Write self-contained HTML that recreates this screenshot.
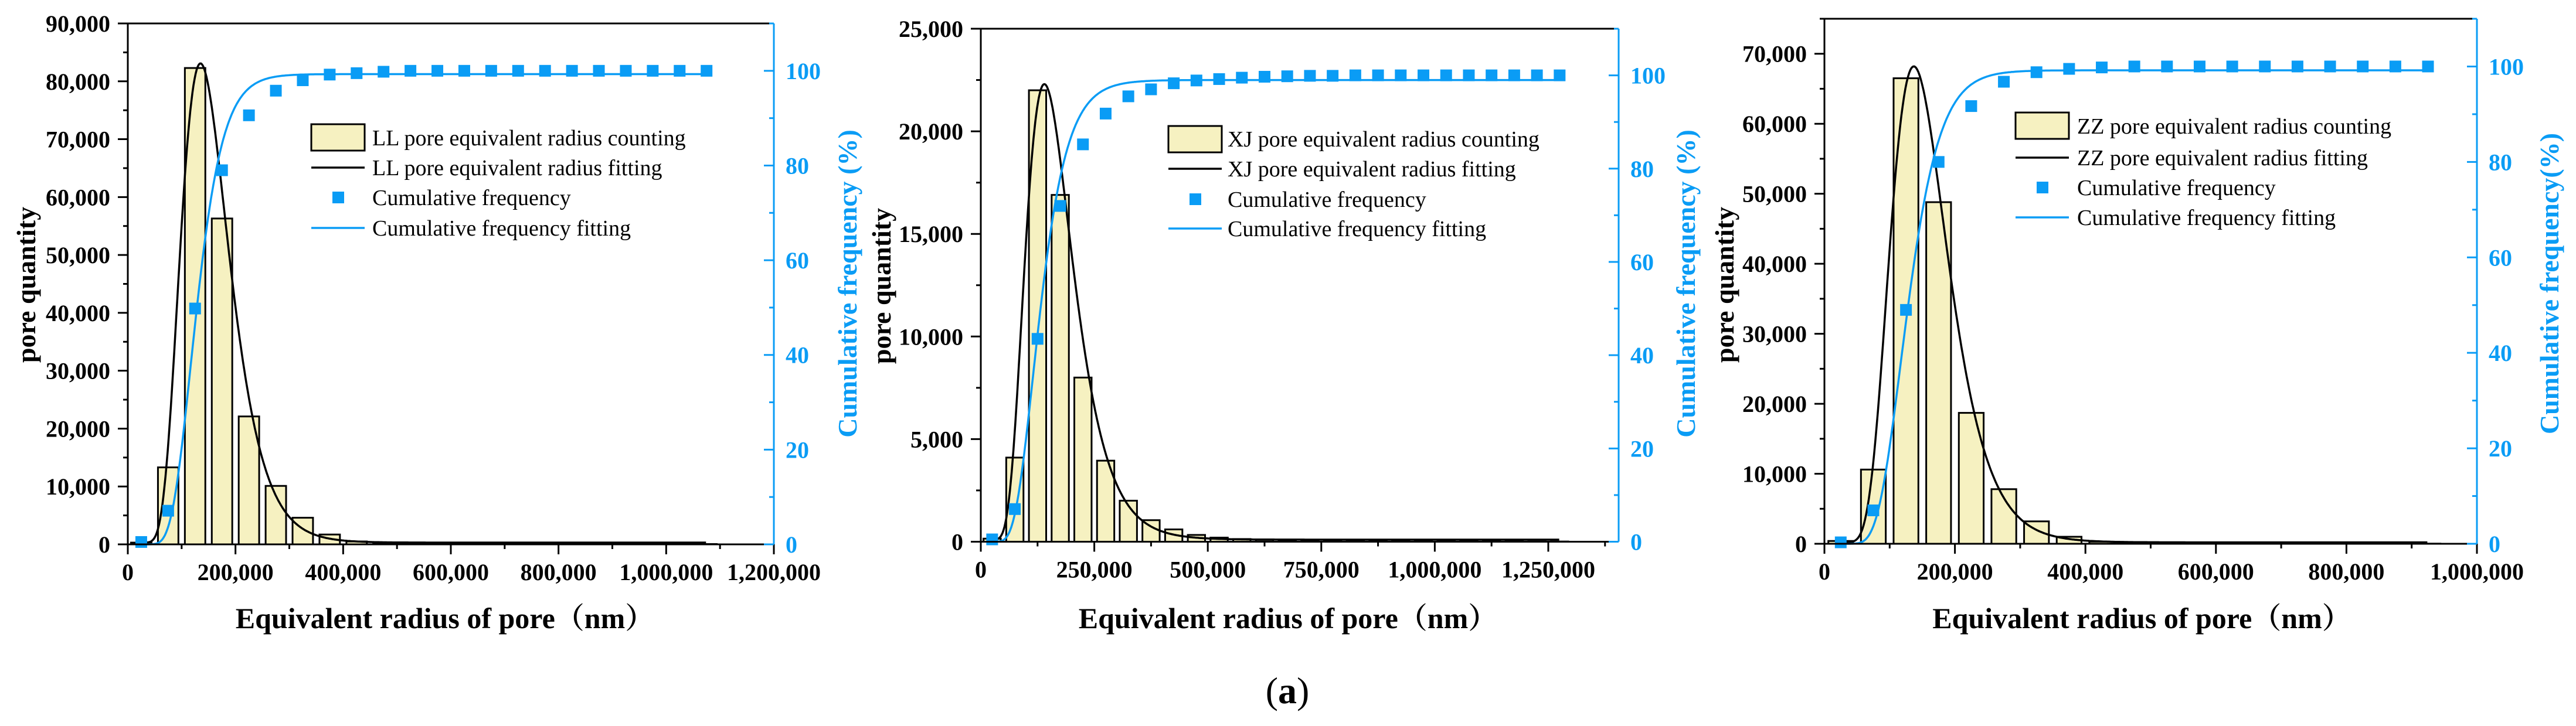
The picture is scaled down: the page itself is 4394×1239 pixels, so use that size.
<!DOCTYPE html>
<html><head><meta charset="utf-8"><title>Pore equivalent radius distribution</title>
<style>
html,body{margin:0;padding:0;background:#fff;}
svg{display:block;font-family:"Liberation Serif","Noto Serif CJK SC",serif;}
</style></head>
<body>
<svg id="fig" width="4394" height="1239" viewBox="0 0 4394 1239" xmlns="http://www.w3.org/2000/svg"></svg>
<script>
// ---- data: LL ----
const llCounts = [300,13300,82300,56300,22100,10100,4600,1700,500,300,250,200,150,150,100,100,100,80,80,60,60,50];
const llCum = [0.5,7.1,49.8,79,90.6,95.8,98,99.2,99.5,99.8,100,100,100,100,100,100,100,100,100,100,100,100];
const llFit = [82800,135000,0.33,300];      // amplitude, xc, w, y0
const llCumFit = [128000,0.30,99.3];        // median, sigma, plateau
const llXTicks = ["0","200,000","400,000","600,000","800,000","1,000,000","1,200,000"];
const llYTicks = ["0","10,000","20,000","30,000","40,000","50,000","60,000","70,000","80,000","90,000"];
// ---- data: XJ ----
const xjCounts = [150,4100,22000,16900,8000,3950,2000,1050,600,330,200,130,90,70,60,50,40,35,30,25,20,20,15,15,10,10];
const xjCum = [0.5,7,43.5,72,85.2,91.8,95.5,97,98.3,98.9,99.2,99.5,99.7,99.8,99.9,99.9,100,100,100,100,100,100,100,100,100,100];
const xjFit = [22200,140000,0.37,100];
const xjCumFit = [131000,0.36,99.0];
const xjXTicks = ["0","250,000","500,000","750,000","1,000,000","1,250,000"];
const xjYTicks = ["0","5,000","10,000","15,000","20,000","25,000"];
// ---- data: ZZ ----
const zzCounts = [400,10600,66500,48800,18700,7800,3200,1000,300,150,100,80,60,50,40,30,30,20,20];
const zzCum = [0.3,7,49,80,91.7,96.8,98.8,99.5,99.8,100,100,100,100,100,100,100,100,100,100];
const zzFit = [68000,137000,0.32,200];
const zzCumFit = [128000,0.30,99.2];
const zzXTicks = ["0","200,000","400,000","600,000","800,000","1,000,000"];
const zzYTicks = ["0","10,000","20,000","30,000","40,000","50,000","60,000","70,000"];
const cumTicks = ["0","20","40","60","80","100"];

const NS="http://www.w3.org/2000/svg";
const svg=document.getElementById('fig');
const BLUE="#0a9cf5", FILL="#f6f1c1";
function mk(tag,attrs,parent,txt){const e=document.createElementNS(NS,tag);for(const k in attrs)e.setAttribute(k,attrs[k]);if(txt!==undefined)e.textContent=txt;(parent||svg).appendChild(e);return e;}
function erf(x){const s=Math.sign(x);x=Math.abs(x);const t=1/(1+0.3275911*x);const y=1-(((((1.061405429*t-1.453152027)*t)+1.421413741)*t-0.284496736)*t+0.254829592)*t*Math.exp(-x*x);return s*y;}

function chart(c){
  const g=mk('g',{});
  
  
  const X=v=>c.L+(v/c.xMax)*(c.R-c.L);
  const Y=v=>c.B-(v/c.yMax)*(c.B-c.T);
  const Y2=v=>c.B-(v/110)*(c.B-c.T);
  const bin=50000, bw=38000;
  c.counts.forEach((v,i)=>{
    const cx=bin/2+i*bin;
    const r=mk('rect',{x:X(cx-bw/2),y:Y(v),width:X(bw)-X(0),height:c.B-Y(v),fill:FILL,stroke:'#000','stroke-width':3},g);
    
    
  });
  const lastX=bin/2+(c.counts.length-1)*bin;
  let d='';
  for(let x=20000;x<=lastX;x+=2000){
    const [A,xc,w,y0]=c.fit;
    const v=y0+A*Math.exp(-Math.pow(Math.log(x/xc),2)/(2*w*w));
    d+=(d?'L':'M')+X(x).toFixed(1)+' '+Y(v).toFixed(1);
  }
  const fp=mk('path',{d:d,fill:'none',stroke:'#000','stroke-width':3.5},g);
  
  
  d='';
  for(let x=25000;x<=lastX;x+=2000){
    const [m,s,p]=c.cumFit;
    const v=p*0.5*(1+erf(Math.log(x/m)/(s*Math.SQRT2)));
    d+=(d?'L':'M')+X(x).toFixed(1)+' '+Y2(v).toFixed(1);
  }
  const cp=mk('path',{d:d,fill:'none',stroke:BLUE,'stroke-width':3.5},g);
  
  
  c.cum.forEach((v,i)=>{
    const cx=bin/2+i*bin;
    const r=mk('rect',{x:X(cx)-10,y:Y2(v)-10,width:20,height:20,fill:BLUE},g);
    
    
  });
  mk('line',{x1:c.L,y1:c.T,x2:c.R,y2:c.T,stroke:'#000','stroke-width':3},g);
  mk('line',{x1:c.L,y1:c.T,x2:c.L,y2:c.B+1.5,stroke:'#000','stroke-width':3},g);
  mk('line',{x1:c.L,y1:c.B,x2:c.R,y2:c.B,stroke:'#000','stroke-width':3},g);
  mk('line',{x1:c.R,y1:c.T,x2:c.R,y2:c.B,stroke:BLUE,'stroke-width':3},g);
  for(let v=0;v<=c.yMax+1;v+=c.yMinor){
    const major=Math.abs(v/c.yMajor-Math.round(v/c.yMajor))<1e-6;
    mk('line',{x1:c.L-(major?17:8),y1:Y(v),x2:c.L,y2:Y(v),stroke:'#000','stroke-width':3},g);
  }
  c.yTicks.forEach((t,i)=>{
    const e=mk('text',{x:c.L-30,y:Y(i*c.yMajor)+14,'text-anchor':'end','font-size':40,'font-weight':'bold',fill:'#000'},g,t);
    
    
  });
  for(let v=0;v<=c.xMax+1;v+=c.xMinor){
    const major=Math.abs(v/c.xMajor-Math.round(v/c.xMajor))<1e-6;
    mk('line',{x1:X(v),y1:c.B,x2:X(v),y2:c.B+(major?17:8),stroke:'#000','stroke-width':3},g);
  }
  c.xTicks.forEach((t,i)=>{
    const e=mk('text',{x:X(i*c.xMajor),y:c.B+61,'text-anchor':'middle','font-size':40,'font-weight':'bold',fill:'#000'},g,t);
    
    
  });
  for(let v=0;v<=110;v+=10){
    const major=v%20===0;
    mk('line',{x1:c.R-(major?17:8),y1:Y2(v),x2:c.R,y2:Y2(v),stroke:BLUE,'stroke-width':3},g);
  }
  cumTicks.forEach((t,i)=>{
    const e=mk('text',{x:c.R+20,y:Y2(i*20)+14,'text-anchor':'start','font-size':40,'font-weight':'bold',fill:BLUE},g,t);
    
    
  });
  const xt=mk('text',{x:(c.L+c.R)/2+c.xtOff,y:1072,'text-anchor':'middle','font-size':50,'font-weight':'bold',fill:'#000'},g,'Equivalent radius of pore（nm）');
  
  
  const yt=mk('text',{x:0,y:0,'text-anchor':'middle','font-size':46,'font-weight':'bold',fill:'#000',transform:'translate('+(c.ytX)+','+c.ytY+') rotate(-90)'},g,'pore quantity');
  
  
  const rt=mk('text',{x:0,y:0,'text-anchor':'middle','font-size':46,'font-weight':'bold',fill:BLUE,transform:'translate('+c.rtX+',484) rotate(-90)'},g,c.rtText);
  
  
  const lg=mk('g',{},g);
  
  
  const [lx,ly,tx,rows]=c.leg;
  mk('rect',{x:lx,y:ly,width:91,height:45,fill:FILL,stroke:'#000','stroke-width':3},lg);
  mk('line',{x1:lx,y1:rows[1],x2:lx+91,y2:rows[1],stroke:'#000','stroke-width':3.5},lg);
  mk('rect',{x:lx+36,y:rows[2]-10,width:20,height:20,fill:BLUE},lg);
  mk('line',{x1:lx,y1:rows[3],x2:lx+91,y2:rows[3],stroke:BLUE,'stroke-width':3.5},lg);
  const labels=[c.id+' pore equivalent radius counting',c.id+' pore equivalent radius fitting','Cumulative frequency','Cumulative frequency fitting'];
  labels.forEach((t,i)=>{
    const e=mk('text',{x:tx,y:rows[i]+13,'font-size':38,fill:'#000'},lg,t);
    
    
  });
}

chart({id:'LL',L:218,R:1320,T:40,B:929,xMax:1200000,yMax:90000,xMajor:200000,xMinor:100000,yMajor:10000,yMinor:5000,
  counts:llCounts,cum:llCum,fit:llFit,cumFit:llCumFit,xTicks:llXTicks,yTicks:llYTicks,
  xtOff:-10,ytX:60,ytY:486,rtX:1461,rtText:'Cumulative frequency (%)',leg:[531,212,635,[235,286,337,389]]});
chart({id:'XJ',L:1673,R:2761,T:49,B:924.5,xMax:1405000,yMax:25000,xMajor:250000,xMinor:125000,yMajor:5000,yMinor:2500,
  counts:xjCounts,cum:xjCum,fit:xjFit,cumFit:xjCumFit,xTicks:xjXTicks,yTicks:xjYTicks,
  xtOff:-20,ytX:1519,ytY:488,rtX:2891,rtText:'Cumulative frequency (%)',leg:[1993,215,2094,[237,288,340,390]]});
chart({id:'ZZ',L:3112,R:4225,T:32,B:928,xMax:1000000,yMax:75000,xMajor:200000,xMinor:100000,yMajor:10000,yMinor:5000,
  counts:zzCounts,cum:zzCum,fit:zzFit,cumFit:zzCumFit,xTicks:zzXTicks,yTicks:zzYTicks,
  xtOff:-15,ytX:2957,ytY:486,rtX:4364,rtText:'Cumulative frequency(%)',leg:[3438,192,3543,[215,269,320,371]]});

const cap=mk('text',{x:2196,y:1200,'text-anchor':'middle','font-size':64,fill:'#000'});


cap.innerHTML='(<tspan font-weight="bold">a</tspan>)';
</script>
</body></html>
